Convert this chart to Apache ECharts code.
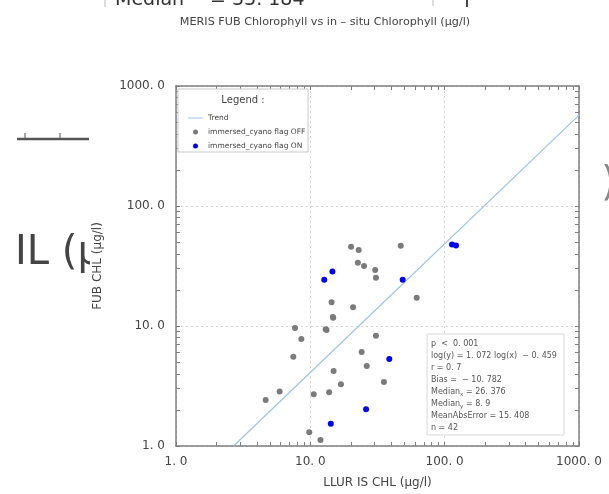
<!DOCTYPE html>
<html>
<head>
<meta charset="utf-8">
<script src="https://cdn.jsdelivr.net/npm/echarts@6/dist/echarts.min.js"></script>
<style>
  html, body { margin: 0; padding: 0; background: #fff; }
  #chart { width: 609px; height: 494px; }
</style>
</head>
<body>
<div id="chart"></div>
<script>
// in-situ (x) vs FUB (y) chlorophyll, µg/l
const offX = [20.1, 22.9, 47.1, 22.6, 25.1, 30.4, 30.8, 61.9, 14.4, 20.8, 14.8, 14.7, 7.69, 13.2, 13.0, 8.57, 30.8, 7.47, 24.1, 26.3, 14.9, 35.3, 16.9, 5.91, 4.65, 10.6, 13.8, 9.82, 11.9];
const offY = [45.8, 43.0, 46.7, 33.7, 31.6, 29.3, 25.3, 17.2, 15.8, 14.3, 11.7, 11.9, 9.62, 9.26, 9.40, 7.79, 8.30, 5.55, 6.07, 4.64, 4.22, 3.41, 3.27, 2.84, 2.42, 2.70, 2.80, 1.30, 1.12];
const onX = [14.6, 12.7, 48.7, 38.7, 26.0, 14.2, 113.4, 121.5];
const onY = [28.4, 24.3, 24.3, 5.31, 2.02, 1.53, 47.8, 46.9];

// trend: log(y) = a log(x) + b
const trendA = 1.072;
const trendB = -0.459;

const tickValues = [1, 10, 100, 1000];
const tickLabels = ['1. 0', '10. 0', '100. 0', '1000. 0'];
const minorValues = [];
[1, 10, 100].forEach(d => { for (let k = 1; k < 10; k++) minorValues.push(d * k); });
minorValues.push(1000);

const statLines = [
  'p  <  0. 001',
  'log(y) = 1. 072 log(x)  − 0. 459',
  'r = 0. 7',
  'Bias =  − 10. 782',
  'Median{sub|x} = 26. 376',
  'Median{sub|y} = 8. 9',
  'MeanAbsError = 15. 408',
  'n = 42'
];

const pair = (xs, ys) => xs.map((x, i) => [x, ys[i]]);
const x0 = Math.pow(10, -trendB / trendA);
const trendData = [x0, 1000].map(x => [x, Math.pow(10, trendA * Math.log10(x) + trendB)]);

const font = 'DejaVu Sans';
const frame = '#7f7f7f';
const trendColor = '#9cc3e8';

function tickAxis(pos, main) {
  return {
    type: 'log', logBase: 10, min: 1, max: 1000, position: pos, z: 2,
    axisLine: { show: true, onZero: false, lineStyle: { color: frame, width: 1.5 } },
    axisTick: { show: true, inside: true, length: 4, customValues: minorValues, lineStyle: { color: frame } },
    axisLabel: {
      show: main, customValues: tickValues, fontFamily: font, fontSize: 12, color: '#444',
      margin: 10,
      formatter: v => tickLabels[tickValues.indexOf(Math.round(v))] || ''
    },
    splitLine: { show: false }
  };
}

// axis that only draws the dotted grid at the decades
function gridAxis(pos) {
  return {
    type: 'log', logBase: 10, min: 1, max: 1000, position: pos, z: 0,
    axisLine: { show: false }, axisTick: { show: false }, axisLabel: { show: false },
    splitLine: { show: true, lineStyle: { color: '#d4d4d4', type: [2, 3], width: 1 } }
  };
}

const xMain = tickAxis('bottom', true);
xMain.name = 'LLUR IS CHL (µg/l)';
xMain.nameLocation = 'middle';
xMain.nameGap = 31;
xMain.nameTextStyle = { fontFamily: font, fontSize: 12, color: '#444' };
const yMain = tickAxis('left', true);
yMain.name = 'FUB CHL (µg/l)';
yMain.nameLocation = 'middle';
yMain.nameGap = 72;
yMain.nameTextStyle = { fontFamily: font, fontSize: 12, color: '#444' };
yMain.axisLabel.margin = 11;

const chart = echarts.init(document.getElementById('chart'), null, { renderer: 'canvas' });
chart.setOption({
  animation: false,
  backgroundColor: '#fff',
  grid: { left: 176, right: 30, top: 86, bottom: 48 },
  xAxis: [xMain, tickAxis('top', false), gridAxis('bottom')],
  yAxis: [yMain, tickAxis('right', false), gridAxis('left')],
  legend: {
    orient: 'vertical', left: 183, top: 108,
    itemWidth: 15, itemHeight: 5, itemGap: 4, symbolKeepAspect: true, z: 6,
    textStyle: { fontFamily: font, fontSize: 7.5, color: '#444', lineHeight: 10 },
    data: [
      { name: 'Trend', icon: 'path://M0,0 L30,0 L30,2 L0,2 Z' },
      { name: 'immersed_cyano flag OFF', icon: 'circle' },
      { name: 'immersed_cyano flag ON', icon: 'circle' }
    ]
  },
  series: [
    {
      name: 'Trend', type: 'line', data: trendData, showSymbol: false, symbol: 'none',
      lineStyle: { color: trendColor, width: 1.2 }, itemStyle: { color: trendColor }, z: 2
    },
    {
      name: 'immersed_cyano flag OFF', type: 'scatter', data: pair(offX, offY),
      symbolSize: 6, itemStyle: { color: '#7b7b7b', opacity: 1 }, z: 3
    },
    {
      name: 'immersed_cyano flag ON', type: 'scatter', data: pair(onX, onY),
      symbolSize: 6, itemStyle: { color: '#0000ff', opacity: 1 }, z: 3
    }
  ],
  graphic: [
    // leftovers of a figure underneath
    { type: 'text', z: 0, style: { x: 115, y: 0, text: 'Median', fontFamily: font, fontSize: 19, fill: '#333', verticalAlign: 'middle' } },
    { type: 'text', z: 0, style: { x: 210, y: 0, text: '= 33. 184', fontFamily: font, fontSize: 19, fill: '#333', verticalAlign: 'middle' } },
    { type: 'line', z: 0, shape: { x1: 105, y1: 0, x2: 105, y2: 7 }, style: { stroke: '#bbb', lineWidth: 1 } },
    { type: 'line', z: 0, shape: { x1: 433, y1: 0, x2: 433, y2: 6 }, style: { stroke: '#bbb', lineWidth: 1 } },
    { type: 'line', z: 0, shape: { x1: 467, y1: 0, x2: 467, y2: 7 }, style: { stroke: '#444', lineWidth: 2 } },
    { type: 'line', z: 0, shape: { x1: 17, y1: 139, x2: 89, y2: 139 }, style: { stroke: '#555', lineWidth: 2.5 } },
    { type: 'line', z: 0, shape: { x1: 25, y1: 139, x2: 25, y2: 133 }, style: { stroke: '#555', lineWidth: 1 } },
    { type: 'line', z: 0, shape: { x1: 60, y1: 139, x2: 60, y2: 133 }, style: { stroke: '#555', lineWidth: 1 } },
    { type: 'text', z: 0, style: { x: 15, y: 254, text: 'IL (µ', fontFamily: font, fontSize: 40, fill: '#444', verticalAlign: 'middle' } },
    { type: 'rect', z: 1, shape: { x: 90, y: 220, width: 60, height: 70 }, style: { fill: '#fff' } },
    { type: 'text', z: 0, style: { x: 601, y: 185, text: ')', fontFamily: font, fontSize: 40, fill: '#888', verticalAlign: 'middle' } },
    // title
    { type: 'text', z: 5, style: { x: 325, y: 22, text: 'MERIS FUB Chlorophyll vs in – situ Chlorophyll (µg/l)', fontFamily: font, fontSize: 11.2, fill: '#444', align: 'center', verticalAlign: 'middle' } },
    // legend frame
    { type: 'rect', z: 3, shape: { x: 178, y: 89, width: 130, height: 63 }, style: { fill: '#fff', stroke: '#c8c8c8', lineWidth: 1 } },
    { type: 'text', z: 5, style: { x: 243, y: 100, text: 'Legend :', fontFamily: font, fontSize: 10, fill: '#444', align: 'center', verticalAlign: 'middle' } },
    // stats box
    { type: 'rect', z: 3, shape: { x: 427, y: 334, width: 137, height: 101 }, style: { fill: '#fff', stroke: '#d8d8d8', lineWidth: 1 } },
    {
      type: 'text', z: 5,
      style: {
        x: 431, y: 338, text: statLines.join('\n'), fontFamily: font, fontSize: 8, fill: '#555', lineHeight: 12,
        rich: { sub: { fontFamily: font, fontSize: 5.5, fill: '#555', verticalAlign: 'bottom', lineHeight: 12, padding: [4, 0, 0, 0] } }
      }
    }
  ]
});
</script>
</body>
</html>
